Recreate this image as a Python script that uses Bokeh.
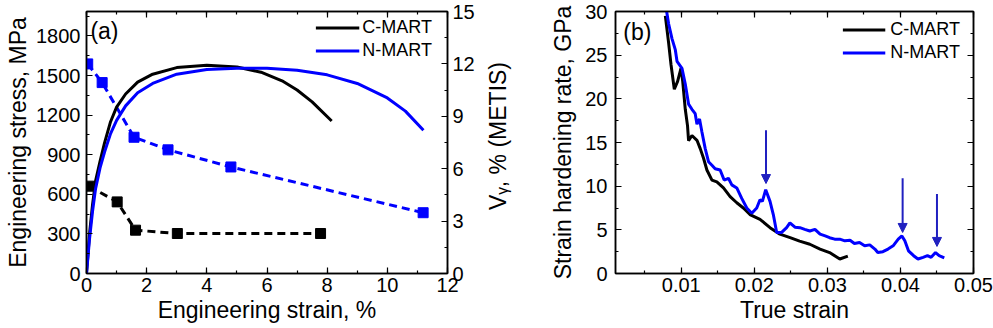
import math
from bokeh.plotting import figure
from bokeh.layouts import row
from bokeh.models import (Range1d, LinearAxis, SingleIntervalTicker, Label, Arrow,
                          NormalHead, ColumnDataSource, CustomJSTickFormatter)
from bokeh.embed import file_html
from bokeh.resources import INLINE

# ---------------- data: panel (a) ----------------
c_strain = [0, 0.1, 0.2, 0.3, 0.45, 0.6, 0.8, 1.0, 1.3, 1.7, 2.2, 3.0, 4.0, 5.0, 5.8, 6.5, 7.0, 7.5, 8.15]
c_stress = [0, 300, 520, 700, 850, 990, 1150, 1260, 1360, 1450, 1510, 1560, 1578, 1565, 1525, 1460, 1390, 1300, 1155]
n_strain = [0, 0.1, 0.2, 0.3, 0.45, 0.6, 0.8, 1.0, 1.3, 1.7, 2.2, 3.0, 4.0, 5.0, 6.0, 7.0, 8.0, 9.0, 10.0, 10.6, 11.2]
n_stress = [0, 260, 470, 640, 800, 920, 1060, 1160, 1270, 1370, 1440, 1510, 1545, 1555, 1555, 1540, 1505, 1440, 1330, 1230, 1085]

c_v_strain = [0.08, 1.02, 1.63, 3.02, 7.78]
c_v_frac = [5.0, 4.1, 2.48, 2.29, 2.29]
n_v_strain = [0.04, 0.52, 1.58, 2.71, 4.8, 11.19]
n_v_frac = [12.0, 10.93, 7.8, 7.08, 6.1, 3.48]

# ---------------- data: panel (b) ----------------
c_true = [0.00782, 0.00827, 0.0086, 0.00905, 0.0095, 0.00996, 0.0102, 0.01055, 0.01086, 0.0110,
          0.01146, 0.01215, 0.0126, 0.01305, 0.01351, 0.0142, 0.01487, 0.01578, 0.01669, 0.0176,
          0.0185, 0.0194, 0.02078, 0.02215, 0.0235, 0.0249, 0.0262, 0.0276, 0.029, 0.0303,
          0.0317, 0.0328]
c_rate = [29.5, 26.4, 23.9, 21.1, 22.0, 23.5, 22.0, 18.8, 16.9, 15.2,
          15.8, 15.25, 14.3, 13.2, 11.85, 10.7, 10.5, 9.8, 8.8, 8.1,
          7.5, 6.75, 6.2, 5.25, 4.5, 4.1, 3.7, 3.35, 2.8, 2.4,
          1.66, 2.0]
n_true = [0.00800, 0.00827, 0.00873, 0.00919, 0.00942, 0.0101, 0.01055, 0.0110, 0.01146, 0.01191,
          0.01215, 0.0125, 0.01283, 0.01328, 0.01373, 0.0142, 0.01464, 0.01532, 0.01587, 0.01646,
          0.01692, 0.0176, 0.01828, 0.01897, 0.01965, 0.02033, 0.02078, 0.0211, 0.02156, 0.02215,
          0.0226, 0.02306, 0.02374, 0.02442, 0.02487, 0.02556, 0.02624, 0.0269, 0.0276, 0.0283,
          0.029, 0.0297, 0.0303, 0.031, 0.0317, 0.0324, 0.0331, 0.0337, 0.0344, 0.0351,
          0.0358, 0.0365, 0.0369, 0.0376, 0.0383, 0.039, 0.0397, 0.0402, 0.0406, 0.0411,
          0.0418, 0.0424, 0.0431, 0.0437, 0.0442, 0.0448, 0.0453, 0.046]
n_rate = [30.0, 28.6, 26.9, 25.6, 24.3, 23.5, 21.7, 19.4, 18.8, 18.3,
          17.1, 17.7, 16.2, 14.3, 12.8, 12.4, 12.0, 11.85, 10.7, 10.9,
          10.15, 9.8, 8.6, 7.5, 6.9, 7.5, 8.45, 8.26, 9.6, 8.26,
          6.75, 4.7, 4.7, 5.25, 5.8, 5.3, 5.25, 5.06, 4.87, 5.06,
          4.5, 4.3, 4.1, 3.93, 3.93, 3.74, 3.8, 3.43, 3.55, 3.17,
          3.28, 2.8, 2.4, 2.5, 2.8, 3.17, 3.93, 4.3, 3.74, 2.6,
          2.04, 1.66, 1.85, 2.04, 1.85, 2.4, 2.04, 1.78]

arrow_x = [0.0216, 0.0403, 0.0450]
arrow_y_start = [16.4, 10.9, 9.1]
arrow_y_end = [10.3, 4.7, 3.1]

FONT = "Liberation Sans"
BLUE = "#0000ff"
ARROW_BLUE = "#2020c0"


def style_axis(ax, show=True, label_standoff=6, title_standoff=4):
    ax.major_tick_in = 6
    ax.major_tick_out = 0
    ax.minor_tick_in = 3
    ax.minor_tick_out = 0
    ax.axis_line_color = "black"
    ax.axis_line_width = 1.5
    ax.major_tick_line_color = "black"
    ax.minor_tick_line_color = "black"
    ax.major_tick_line_width = 1.2
    ax.minor_tick_line_width = 1.2
    ax.major_label_text_font = FONT
    ax.major_label_text_color = "black"
    ax.axis_label_text_font = FONT
    ax.axis_label_text_font_style = "normal"
    ax.axis_label_text_color = "black"
    ax.axis_label_text_font_size = "23px"
    if show:
        ax.major_label_text_font_size = "20px"
        ax.major_label_standoff = label_standoff
        ax.axis_label_standoff = title_standoff
    else:
        ax.major_label_text_font_size = "1px"
        ax.major_label_standoff = 0
        ax.formatter = CustomJSTickFormatter(code="return ''")


def style_legend(p, top, right, gw, standoff):
    lg = p.legend[0]
    lg.location = "top_right"
    lg.border_line_alpha = 0
    lg.background_fill_alpha = 0
    lg.label_text_font = FONT
    lg.label_text_font_size = "18px"
    lg.label_text_color = "black"
    lg.glyph_width = gw
    lg.glyph_height = 23
    lg.label_height = 23
    lg.label_standoff = standoff
    lg.spacing = 0
    lg.padding = dict(left=4, right=right, top=top, bottom=4)
    lg.margin = 0


TOP = 11
BOTTOM = 55

# ---------------- panel (a) ----------------
p1 = figure(width=486, height=328, output_backend="svg", toolbar_location=None,
            x_range=Range1d(0, 12), y_range=Range1d(0, 1985),
            min_border_left=86, min_border_right=39, min_border_top=TOP, min_border_bottom=BOTTOM,
            x_axis_label="Engineering strain, %", y_axis_label="Engineering stress, MPa")
p1.extra_y_ranges = {"v": Range1d(0, 15)}
p1.xgrid.visible = False
p1.ygrid.visible = False
p1.outline_line_color = "black"
p1.outline_line_width = 1.5
p1.background_fill_color = "white"
p1.border_fill_color = "white"

p1.xaxis[0].ticker = SingleIntervalTicker(interval=2, num_minor_ticks=2)
p1.yaxis[0].ticker = SingleIntervalTicker(interval=300, num_minor_ticks=2)
style_axis(p1.xaxis[0], label_standoff=4, title_standoff=2)
style_axis(p1.yaxis[0], label_standoff=6, title_standoff=2)

ax_top1 = LinearAxis(ticker=SingleIntervalTicker(interval=2, num_minor_ticks=2))
style_axis(ax_top1, show=False)
p1.add_layout(ax_top1, "above")

ax_right1 = LinearAxis(y_range_name="v", ticker=SingleIntervalTicker(interval=3, num_minor_ticks=2))
style_axis(ax_right1, label_standoff=5, title_standoff=4)
p1.add_layout(ax_right1, "right")

p1.line(c_v_strain, c_v_frac, y_range_name="v", line_color="black", line_width=3, line_dash="8 5")
p1.scatter(c_v_strain, c_v_frac, y_range_name="v", marker="square", size=10,
           fill_color="black", line_color="black")
p1.line(n_v_strain, n_v_frac, y_range_name="v", line_color=BLUE, line_width=3, line_dash="8 5")
p1.scatter(n_v_strain, n_v_frac, y_range_name="v", marker="square", size=10,
           fill_color=BLUE, line_color=BLUE)
p1.line(c_strain, c_stress, line_color="black", line_width=3, legend_label="C-MART")
p1.line(n_strain, n_stress, line_color=BLUE, line_width=3, legend_label="N-MART")
style_legend(p1, top=5, right=15, gw=44, standoff=3)

p1.add_layout(Label(x=0.13, y=1841, text="(a)", text_baseline="middle", text_font=FONT,
                    text_font_size="23px", text_color="black"))

# ---------------- strip holding the right-axis title of panel (a) ----------------
ps = figure(width=26, height=328, output_backend="svg", toolbar_location=None,
            x_range=Range1d(0, 1), y_range=Range1d(0, 1),
            min_border_left=0, min_border_right=0, min_border_top=0, min_border_bottom=0)
ps.axis.visible = False
ps.xgrid.visible = False
ps.ygrid.visible = False
ps.outline_line_color = None
ps.background_fill_color = "white"
ps.border_fill_color = "white"
ps.add_layout(Label(x=0.46, y=0.525, text="V\u1d67, % (METIS)", angle=math.pi / 2,
                    text_align="center", text_baseline="middle", text_font=FONT,
                    text_font_size="23px", text_color="black"))

# ---------------- panel (b) ----------------
p2 = figure(width=481, height=328, output_backend="svg", toolbar_location=None,
            x_range=Range1d(0.001, 0.05), y_range=Range1d(0, 30),
            min_border_left=103, min_border_right=20, min_border_top=TOP, min_border_bottom=BOTTOM,
            x_axis_label="True strain", y_axis_label="Strain hardening rate, GPa")
p2.xgrid.visible = False
p2.ygrid.visible = False
p2.outline_line_color = "black"
p2.outline_line_width = 1.5
p2.background_fill_color = "white"
p2.border_fill_color = "white"

p2.xaxis[0].ticker = SingleIntervalTicker(interval=0.01, num_minor_ticks=2)
p2.yaxis[0].ticker = SingleIntervalTicker(interval=5, num_minor_ticks=2)
style_axis(p2.xaxis[0], label_standoff=4, title_standoff=2)
style_axis(p2.yaxis[0], label_standoff=8, title_standoff=6)

ax_top2 = LinearAxis(ticker=SingleIntervalTicker(interval=0.01, num_minor_ticks=2))
style_axis(ax_top2, show=False)
p2.add_layout(ax_top2, "above")
ax_right2 = LinearAxis(ticker=SingleIntervalTicker(interval=5, num_minor_ticks=2))
style_axis(ax_right2, show=False)
p2.add_layout(ax_right2, "right")

p2.line(c_true, c_rate, line_color="black", line_width=3, legend_label="C-MART")
p2.line(n_true, n_rate, line_color=BLUE, line_width=3, legend_label="N-MART")
style_legend(p2, top=7, right=13, gw=43, standoff=5)

arrow_src = ColumnDataSource(dict(x=arrow_x, y0=arrow_y_start, y1=arrow_y_end))
p2.add_layout(Arrow(source=arrow_src, x_start="x", y_start="y0", x_end="x", y_end="y1",
                    line_color=ARROW_BLUE, line_width=2,
                    end=NormalHead(size=9, fill_color=ARROW_BLUE, line_color=ARROW_BLUE)))

p2.add_layout(Label(x=0.00206, y=27.6, text="(b)", text_baseline="middle", text_font=FONT,
                    text_font_size="23px", text_color="black"))

layout = row(p1, ps, p2)
open("out.html", "w").write(file_html(layout, INLINE))
